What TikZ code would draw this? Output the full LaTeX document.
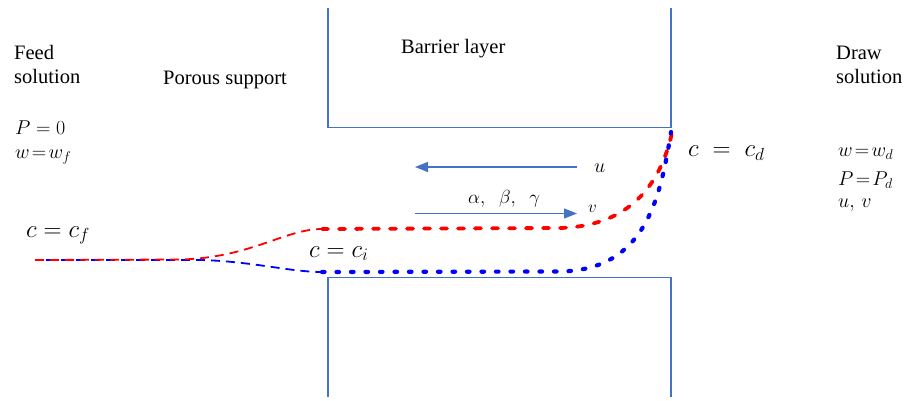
\RequirePackage{fix-cm}
\documentclass[tikz,border=0pt]{standalone}
\usepackage{fontspec}
\setmainfont{Liberation Serif}
\usetikzlibrary{arrows.meta}
\definecolor{boxblue}{RGB}{68,114,196}
\tikzset{
  wall/.style={draw=boxblue, line width=1.3pt},
  flowarrow/.style={draw=boxblue, line width=1.3pt, -{Triangle[length=13pt,width=10pt]}},
  lbl/.style={anchor=base west, inner sep=0pt, font=\fontsize{20.5}{24}\selectfont},
  mlbl/.style={anchor=base west, inner sep=0pt, font=\fontsize{20}{23}\selectfont},
  biglbl/.style={anchor=base west, inner sep=0pt, font=\fontsize{25}{28}\selectfont},
  thinred/.style={draw=red, line width=1.8pt, dash pattern=on 9pt off 6pt},
  thinblue/.style={draw=blue, line width=1.8pt, dash pattern=on 9pt off 6pt, dash phase=4pt},
  thickred/.style={draw=red, line width=3.8pt, line cap=round, dash pattern=on 6pt off 11pt},
  thickblue/.style={draw=blue, line width=4.2pt, line cap=round, dash pattern=on 2.5pt off 12pt},
}
\begin{document}
\begin{tikzpicture}[x=1pt,y=-1pt]
\useasboundingbox (0,0) rectangle (910,401);
% walls of the barrier layer
\draw[wall] (328,8) -- (328,127.5) -- (671,127.5) -- (671,8);
\draw[wall] (328,397) -- (328,277.5) -- (671,277.5) -- (671,397);
% flow arrows
\coordinate (uS) at (577,167);
\coordinate (uE) at (415,167);
\coordinate (vS) at (415,213.5);
\coordinate (vE) at (577,213.5);
\draw[flowarrow] (uS) -- (uE);
\draw[flowarrow] (vS) -- (vE);
% concentration profiles
\draw[thinblue] (35,260) -- (200,260) .. controls (250,261) and (290,272) .. (322,272);
\draw[thinred] (35,260) -- (180,259.5) .. controls (250,258) and (285,229) .. (322,229);
\draw[thickred] (322,229) -- (560,228) .. controls (630,226) and (660,185) .. (672,133);
\draw[thickblue] (322,272) -- (560,271.5) .. controls (645,270) and (660,200) .. (671,132);
% labels
\node[lbl] (feed1) at (14,60) {Feed};
\node[lbl] (feed2) at (14,84) {solution};
\node[lbl] (porous) at (163,85) {Porous support};
\node[lbl] (barrier) at (401,54) {Barrier layer};
\node[lbl] (draw1) at (836,60) {Draw};
\node[lbl] (draw2) at (836,84) {solution};
\node[mlbl] (p0) at (15,135) {$P=0$};
\node[mlbl] (wf) at (15,158) {$w\!=\!w_f$};
\node[biglbl] (cf) at (26,237) {$c=c_f$};
\node[biglbl] (ci) at (309,257) {$c=c_i$};
\node[biglbl] (cd) at (688,157) {$c\;=\;c_d$};
\node[mlbl] (wd) at (838,157) {$w\!=\!w_d$};
\node[mlbl] (pd) at (838,185) {$P\!=\!P_d$};
\node[mlbl] (uv) at (838,207) {$u,\,v$};
\node[anchor=base west, inner sep=0pt, font=\fontsize{20}{24}\selectfont] (ulbl) at (594,172) {$u$};
\node[anchor=base west, inner sep=0pt, font=\fontsize{17}{20}\selectfont] (vlbl) at (588,212) {$v$};
\node[anchor=base west, inner sep=0pt, font=\fontsize{19}{22}\selectfont] (abg) at (468,203) {$\alpha,\;\;\beta,\;\;\gamma$};
\end{tikzpicture}
\end{document}
